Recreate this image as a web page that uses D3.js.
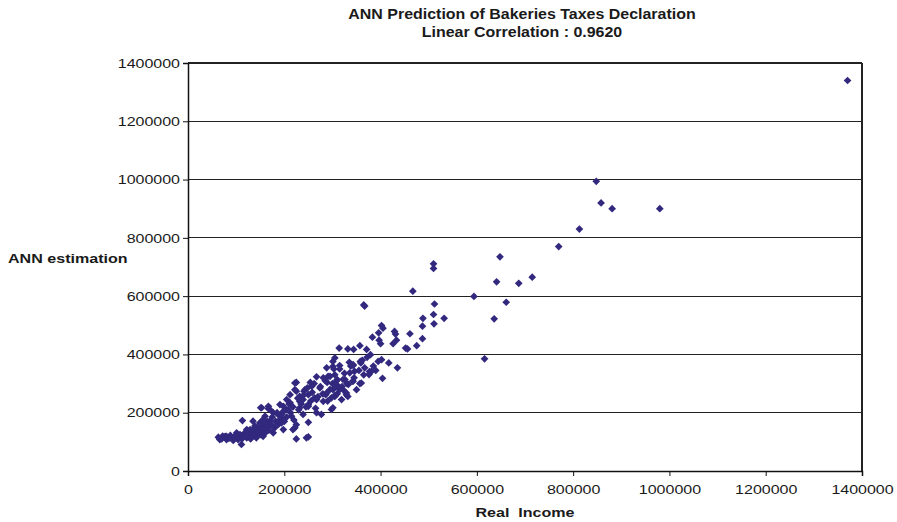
<!DOCTYPE html>
<html>
<head>
<meta charset="utf-8">
<script src="https://cdn.jsdelivr.net/npm/d3@7"></script>
<style>
    body { margin: 0; background: #fff; }
    svg text { font-family: Arial, "Liberation Sans", sans-serif; fill: #1a1a1a; }
    .tick text { font-size: 13px; }
    .title { font-size: 14px; font-weight: bold; }
    .axis-title { font-size: 13.5px; font-weight: bold; }
</style>
</head>
<body>
<div class="graph"></div>
<script>
    // Real income vs ANN estimation
    const realIncome = [
        1370000, 848000, 858000, 881000, 980000, 813000, 770000,
        648000, 641000, 687000, 715000, 594000, 661000, 636000, 616000,
        510000, 510000, 467000, 512000, 510000, 532000, 488000, 511000, 487000, 487000, 475000, 461000,
        365000, 367000, 402000, 405000, 383000, 396000, 429000, 431000, 397000, 400000, 433000, 426000,
        452000, 456000, 314000, 332000, 344000, 357000, 371000, 379000, 362000, 359000, 395000, 402000,
        417000, 435000, 404000, 377000, 376000, 305000, 301000, 315000, 303000, 335000, 343000, 346000,
        358000, 295000, 326000, 342000, 357000, 308000, 312000, 322000, 329000, 332000, 301000, 305000,
        267000, 254000, 225000, 222000, 241000, 274000, 289000, 310000, 322000, 333000, 343000, 350000,
        329000, 315000, 305000, 286000, 281000, 301000, 263000, 250000, 232000, 212000, 198000, 170000,
        153000, 187000, 215000, 239000, 267000, 298000, 250000, 225000, 218000, 225000, 250000, 135000,
        149000, 170000, 194000, 198000, 132000, 156000, 177000, 142000,
        63000, 66000, 77000, 80000, 91000, 94000, 101000, 104000, 111000, 113000, 118000, 122000,
        129000, 132000, 139000, 142000, 149000, 153000, 151000, 167000, 160000, 156000, 170000, 177000,
        180000, 191000, 194000, 205000, 208000, 222000, 246000, 232000, 239000,
        167000, 212000, 225000, 222000, 243000, 250000, 232000, 198000, 156000, 122000, 101000, 80000,
        267000, 257000, 288000, 298000, 281000, 291000, 308000, 319000, 277000, 250000, 336000, 343000,
        367000, 381000, 360000, 301000, 288000,
        70000, 72000, 85000, 88000, 97000, 105000, 108000, 112000, 115000, 120000, 125000, 127000,
        130000, 135000, 137000, 140000, 145000, 147000, 150000, 155000, 158000, 160000, 163000, 165000,
        168000, 172000, 175000, 178000, 182000, 185000, 188000, 190000, 195000, 200000, 203000, 205000,
        210000, 213000, 218000, 220000, 228000, 230000, 235000, 240000, 245000, 248000, 255000, 258000,
        262000, 265000, 270000, 275000, 280000, 285000, 290000, 295000, 300000, 305000, 310000, 315000,
        320000, 325000, 330000, 338000, 345000, 355000, 365000, 372000, 385000, 390000
    ];
    const annEstimation = [
        1340000, 994000, 920000, 900000, 900000, 830000, 770000,
        735000, 649000, 644000, 665000, 599000, 579000, 522000, 385000,
        711000, 695000, 617000, 573000, 537000, 524000, 524000, 505000, 497000, 454000, 430000, 471000,
        570000, 566000, 499000, 490000, 459000, 474000, 479000, 470000, 449000, 437000, 449000, 437000,
        422000, 419000, 422000, 419000, 417000, 430000, 417000, 399000, 380000, 371000, 376000, 382000,
        371000, 354000, 318000, 341000, 331000, 388000, 376000, 362000, 350000, 373000, 362000, 342000,
        376000, 325000, 314000, 308000, 300000, 308000, 291000, 279000, 262000, 256000, 279000, 256000,
        323000, 304000, 304000, 279000, 274000, 285000, 304000, 314000, 314000, 297000, 308000, 279000,
        268000, 279000, 259000, 262000, 239000, 217000, 251000, 228000, 239000, 234000, 222000, 211000,
        217000, 194000, 188000, 194000, 200000, 211000, 167000, 159000, 142000, 110000, 117000, 171000,
        154000, 159000, 165000, 142000, 136000, 125000, 131000, 114000,
        116000, 108000, 119000, 108000, 114000, 105000, 125000, 108000, 91000, 173000, 131000, 114000,
        142000, 119000, 154000, 131000, 165000, 142000, 217000, 214000, 188000, 119000, 171000, 200000,
        148000, 228000, 182000, 245000, 211000, 148000, 114000, 217000, 245000,
        222000, 262000, 274000, 302000, 279000, 262000, 256000, 205000, 177000, 142000, 131000, 119000,
        245000, 291000, 268000, 251000, 320000, 325000, 291000, 245000, 194000, 222000, 337000, 365000,
        354000, 342000, 302000, 359000, 354000,
        110000, 120000, 112000, 122000, 118000, 115000, 125000, 110000, 120000, 125000, 135000, 120000,
        110000, 128000, 145000, 120000, 135000, 150000, 125000, 140000, 160000, 130000, 150000, 170000,
        140000, 160000, 185000, 150000, 170000, 200000, 160000, 175000, 195000, 170000, 210000, 185000,
        230000, 200000, 220000, 175000, 250000, 210000, 230000, 260000, 220000, 285000, 240000, 270000,
        300000, 215000, 255000, 290000, 265000, 310000, 240000, 280000, 300000, 330000, 265000, 350000,
        290000, 335000, 300000, 360000, 320000, 345000, 330000, 390000, 360000, 345000
    ];
    const xTicks = [0, 200000, 400000, 600000, 800000, 1000000, 1200000, 1400000];
    const yTicks = [0, 200000, 400000, 600000, 800000, 1000000, 1200000, 1400000];

    const width = 897, height = 522;
    const margin = {top: 63, right: 35, bottom: 51, left: 188};

    const svg = d3.select(".graph").append("svg")
        .attr("width", width)
        .attr("height", height);

    const x = d3.scaleLinear().domain([0, 1400000]).range([margin.left, width - margin.right]);
    const y = d3.scaleLinear().domain([0, 1400000]).range([height - margin.bottom, margin.top]);

    // the original font is wider than Arial, stretch the text sideways
    function stretch(sel, k) {
        sel.each(function () {
            const w = this.getComputedTextLength();
            d3.select(this).attr("textLength", w * k).attr("lengthAdjust", "spacingAndGlyphs");
        });
    }

    // gridlines
    svg.append("g")
        .selectAll("line")
        .data(yTicks.slice(1))
        .join("line")
        .attr("x1", x(0)).attr("x2", x(1400000))
        .attr("y1", d => y(d)).attr("y2", d => y(d))
        .attr("stroke", "#222")
        .attr("stroke-width", 1.2)
        .attr("shape-rendering", "crispEdges");

    // right frame
    svg.append("line")
        .attr("x1", x(1400000)).attr("x2", x(1400000))
        .attr("y1", y(0)).attr("y2", y(1400000))
        .attr("stroke", "#222").attr("stroke-width", 1.2)
        .attr("shape-rendering", "crispEdges");

    const xAxis = svg.append("g")
        .attr("transform", "translate(0," + y(0) + ")")
        .call(d3.axisBottom(x).tickValues(xTicks).tickFormat(d3.format("d")).tickSize(5).tickPadding(9));

    const yAxis = svg.append("g")
        .attr("transform", "translate(" + x(0) + ",0)")
        .call(d3.axisLeft(y).tickValues(yTicks).tickFormat(d3.format("d")).tickSize(5).tickPadding(3));

    [xAxis, yAxis].forEach(function (g) {
        g.select(".domain").attr("stroke", "#111").attr("stroke-width", 1.5);
        g.selectAll(".tick line").attr("stroke", "#111");
        g.selectAll(".tick text").attr("fill", "#1a1a1a");
        stretch(g.selectAll(".tick text"), 1.23);
    });

    // points
    const pts = d3.zip(realIncome, annEstimation);
    svg.append("g")
        .selectAll("path")
        .data(pts)
        .join("path")
        .attr("d", d3.symbol().type(d3.symbolDiamond2).size(38))
        .attr("transform", d => "translate(" + x(d[0]) + "," + y(d[1]) + ")")
        .attr("fill", "#32297f");

    // titles
    const t1 = svg.append("text").attr("class", "title")
        .attr("x", 522).attr("y", 19).attr("text-anchor", "middle")
        .text("ANN Prediction of Bakeries Taxes Declaration");
    const t2 = svg.append("text").attr("class", "title")
        .attr("x", 522).attr("y", 37).attr("text-anchor", "middle")
        .text("Linear Correlation : 0.9620");
    stretch(t1, 1.14);
    stretch(t2, 1.14);

    const xt = svg.append("text").attr("class", "axis-title")
        .attr("x", 525).attr("y", 517).attr("text-anchor", "middle")
        .attr("xml:space", "preserve")
        .text("Real  Income");
    const yt = svg.append("text").attr("class", "axis-title")
        .attr("x", 8).attr("y", 263)
        .text("ANN estimation");
    stretch(xt, 1.19);
    stretch(yt, 1.19);
</script>
</body>
</html>
